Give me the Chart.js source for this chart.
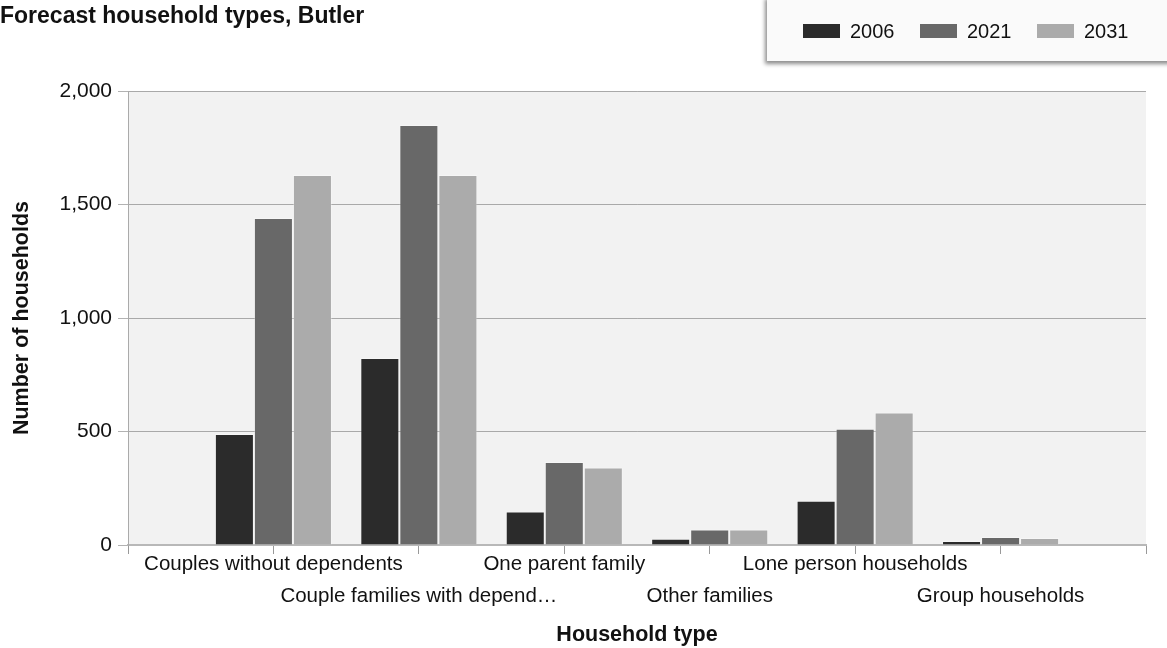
<!DOCTYPE html>
<html>
<head>
<meta charset="utf-8">
<script src="https://cdn.jsdelivr.net/npm/chart.js@4/dist/chart.umd.min.js"></script>
<style>
  html, body { margin: 0; padding: 0; background: #ffffff; }
  #wrap { position: relative; width: 1167px; height: 648px; overflow: hidden; font-family: "Liberation Sans", Arial, sans-serif; }
  #c { position: absolute; left: 0; top: 0; }
  #legend { position: absolute; left: 767px; top: -4px; width: 420px; height: 65px; background: #fafafa;
            box-shadow: -2px 3px 4px rgba(0,0,0,0.45); }
  .item { position: absolute; top: 24px; height: 22px; font-size: 20px; color: #111; line-height: 22px; }
  .sw { position: absolute; left: 0; top: 4px; width: 37px; height: 14px; }
  .lbl { position: absolute; left: 47px; top: 0; white-space: nowrap; }
</style>
</head>
<body>
<div id="wrap">
  <canvas id="c" width="1167" height="648"></canvas>
  <div id="legend"></div>
</div>
<script>
const categories = ['Couples without dependents', 'Couple families with dependents', 'One parent family', 'Other families', 'Lone person households', 'Group households'];
const tickLabels = ['Couples without dependents', 'Couple families with depend\u2026', 'One parent family', 'Other families', 'Lone person households', 'Group households'];
const years = ['2006', '2021', '2031'];
const values2006 = [489, 824, 148, 27, 195, 18];
const values2021 = [1440, 1850, 366, 68, 512, 35];
const values2031 = [1630, 1630, 341, 68, 584, 31];
const colors = ['#2b2b2b', '#686868', '#ababab'];
const yTicks = [0, 500, 1000, 1500, 2000];

// padded label list: empty slot at each end of the axis
const labels = [''].concat(categories, ['']);
const pad = arr => [null].concat(arr, [null]);
const tickText = [''].concat(tickLabels, ['']);

const bgPlugin = {
  id: 'plotBg',
  beforeDraw(chart) {
    const {ctx, chartArea: a} = chart;
    ctx.save();
    ctx.fillStyle = '#f2f2f2';
    ctx.fillRect(a.left, a.top, a.right - a.left, a.bottom - a.top);
    ctx.restore();
  }
};

const seriesList = [values2006, values2021, values2031];
const datasets = years.map((y, i) => ({
  label: y,
  data: pad(seriesList[i]),
  backgroundColor: colors[i],
  borderColor: 'rgba(255,255,255,0.3)',
  borderWidth: 1,
  categoryPercentage: 0.805,
  barPercentage: 1.0
}));

const FAMILY = '"Liberation Sans", Arial, sans-serif';

new Chart(document.getElementById('c'), {
  type: 'bar',
  data: { labels: labels, datasets: datasets },
  plugins: [bgPlugin],
  options: {
    responsive: false,
    animation: false,
    devicePixelRatio: 1,
    layout: { padding: { left: 0, right: 21, top: 0, bottom: 0 } },
    plugins: {
      legend: { display: false },
      tooltip: { enabled: false },
      title: {
        display: true,
        text: 'Forecast household types, Butler',
        align: 'start',
        color: '#111',
        font: { family: FAMILY, size: 23, weight: 'bold', lineHeight: 1.2 },
        padding: { top: 3, bottom: 60.4 }
      }
    },
    scales: {
      x: {
        offset: false,
        grid: { display: true, offset: false, drawOnChartArea: false, drawTicks: true, tickLength: 9, color: '#999999', lineWidth: 1 },
        border: { display: true, color: '#b8b8b8', width: 2 },
        ticks: {
          autoSkip: false, maxRotation: 0, minRotation: 0, padding: -6,
          color: '#111',
          font: { family: FAMILY, size: 20.5, lineHeight: 1.56 },
          callback: function(v, i) {
            const t = tickText[i];
            if (!t) return '';
            return (i % 2 === 0) ? ['', t] : t;
          }
        },
        title: {
          display: true, text: 'Household type', color: '#111',
          font: { family: FAMILY, size: 21.5, weight: 'bold', lineHeight: 1.2 },
          padding: { top: 0, bottom: 0 }
        },
        afterFit(scale) { scale.height = 103; }
      },
      y: {
        min: 0, max: 2000,
        z: 1,
        afterBuildTicks(scale) { scale.ticks = yTicks.map(v => ({ value: v })); },
        grid: { color: 'rgba(0,0,0,0.3)', lineWidth: 1, tickLength: 10 },
        border: { display: true, color: '#aaaaaa', width: 1 },
        ticks: {
          padding: 6, color: '#111',
          font: { family: FAMILY, size: 21 },
          callback: v => v.toLocaleString('en-US')
        },
        title: {
          display: true, text: 'Number of households', color: '#111',
          font: { family: FAMILY, size: 21.5, weight: 'bold', lineHeight: 1.2 },
          padding: { top: 9, bottom: 0 }
        },
        afterFit(scale) { scale.width = 128; }
      }
    }
  }
});

// legend (HTML)
const legend = document.getElementById('legend');
const itemLefts = [36, 153, 270];
years.forEach((y, i) => {
  const it = document.createElement('div');
  it.className = 'item';
  it.style.left = itemLefts[i] + 'px';
  it.style.top = '24px';
  const sw = document.createElement('div');
  sw.className = 'sw';
  sw.style.background = colors[i];
  const lb = document.createElement('div');
  lb.className = 'lbl';
  lb.textContent = y;
  it.appendChild(sw); it.appendChild(lb);
  legend.appendChild(it);
});
</script>
</body>
</html>
